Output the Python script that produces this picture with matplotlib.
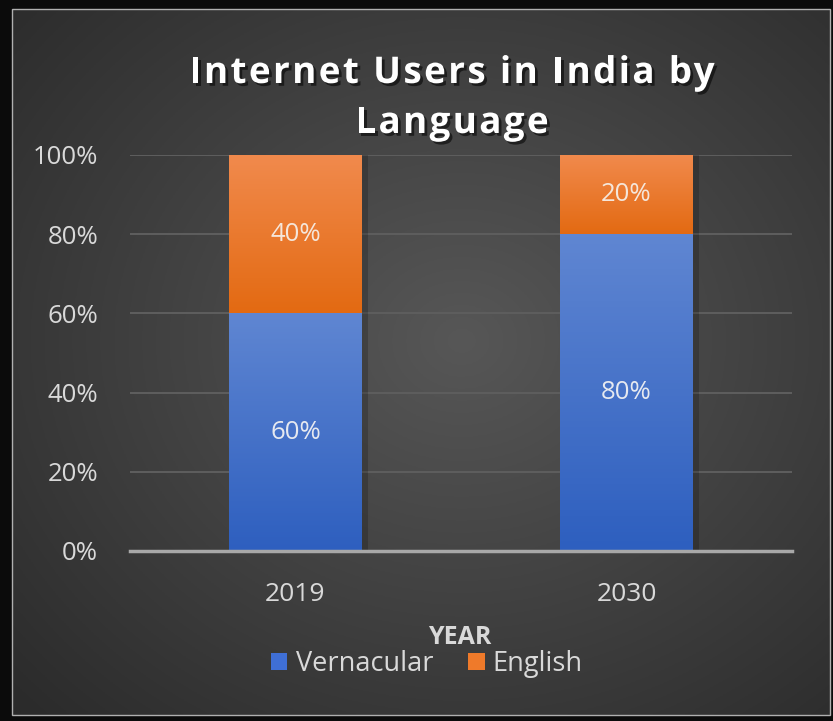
import numpy as np
import matplotlib
matplotlib.use("Agg")
import matplotlib.pyplot as plt
from matplotlib.patches import Rectangle, Patch
from matplotlib import patheffects as pe
from matplotlib.font_manager import FontProperties
from matplotlib.ticker import FuncFormatter

# Data
years = ["2019", "2030"]
vernacular = [60, 80]
english = [40, 20]
series_names = ["Vernacular", "English"]
title_lines = ["Internet Users in India by", "Language"]
x_title = "YEAR"

W, H = 833, 721
fig = plt.figure(figsize=(W / 100, H / 100), dpi=100, facecolor="#0b0b0b")
FONT = "Open Sans"

def fx(px):
    return px / W

def fy(py):
    return 1 - py / H

# Chart panel with radial gradient background
px0, py0, px1, py1 = 12, 9, 830, 715
bg_ax = fig.add_axes([fx(px0), fy(py1), fx(px1 - px0), (py1 - py0) / H])
bg_ax.set_axis_off()
gy, gx = np.mgrid[0:1:300j, 0:1:300j]
r = np.sqrt(((gx - 0.55) / 0.75) ** 2 + ((gy - 0.47) / 0.75) ** 2)
r = np.clip(r, 0, 1)
c_in = np.array([0x57, 0x57, 0x57]) / 255
c_out = np.array([0x2b, 0x2b, 0x2b]) / 255
img = c_in[None, None, :] * (1 - r[..., None]) + c_out[None, None, :] * r[..., None]
bg_ax.imshow(img, extent=[0, 1, 0, 1], aspect="auto", origin="upper")
bg_ax.set_xlim(0, 1)
bg_ax.set_ylim(0, 1)
fig.patches.append(Rectangle((fx(px0), fy(py1)), fx(px1 - px0), (py1 - py0) / H,
                             transform=fig.transFigure, fill=False,
                             edgecolor="#b0b0b0", linewidth=1.0, zorder=5))

# Plot area
ax = fig.add_axes([fx(130), fy(551), fx(792 - 130), (551 - 155) / H])
ax.set_facecolor("none")
x = np.arange(len(years))
bw = 0.40

blue_top, blue_bot = np.array([0x5f, 0x86, 0xd2]) / 255, np.array([0x2e, 0x5f, 0xbf]) / 255
orng_top, orng_bot = np.array([0xf1, 0x8a, 0x4d]) / 255, np.array([0xe3, 0x6a, 0x12]) / 255

v_frac = np.array(vernacular) / 100
e_frac = np.array(english) / 100
b1 = ax.bar(x, v_frac, width=bw, color="#3f6fcc", zorder=3)
b2 = ax.bar(x, e_frac, width=bw, bottom=v_frac, color="#ec7a2c", zorder=3)

def grad_fill(bars, top, bot):
    for b in bars:
        x0, y0 = b.get_x(), b.get_y()
        w, h = b.get_width(), b.get_height()
        t = np.linspace(0, 1, 100)[:, None]
        g = top[None, None, :] * (1 - t[..., None]) + bot[None, None, :] * t[..., None]
        g = np.repeat(g, 2, axis=1)
        im = ax.imshow(g, extent=[x0, x0 + w, y0, y0 + h], aspect="auto",
                       origin="upper", zorder=4)
        im.set_clip_path(b)
        # soft drop shadow on the right side
        ax.add_patch(Rectangle((x0 + w, y0), 0.02, h, facecolor="#000000",
                               alpha=0.18, edgecolor="none", zorder=2))

grad_fill(b1, blue_top, blue_bot)
grad_fill(b2, orng_top, orng_bot)

for i in range(len(years)):
    ax.text(x[i], v_frac[i] / 2, f"{vernacular[i]}%", ha="center", va="center",
            color="#e6e9f0", fontsize=18.5, family=FONT, zorder=6)
    ax.text(x[i], v_frac[i] + e_frac[i] / 2, f"{english[i]}%", ha="center", va="center",
            color="#f5e6da", fontsize=18.5, family=FONT, zorder=6)

ax.set_xlim(-0.5, 1.5)
ax.set_ylim(0, 1)
ax.set_yticks(np.linspace(0, 1, 6))
ax.yaxis.set_major_formatter(FuncFormatter(lambda v, p: f"{v * 100:.0f}%"))
ax.set_xticks(x)
ax.set_xticklabels(years)
ax.grid(axis="y", color="#5e5e5e", linewidth=1.4, zorder=1)
ax.set_axisbelow(True)
for s in ["top", "right", "left"]:
    ax.spines[s].set_visible(False)
ax.spines["bottom"].set_color("#a8a8a8")
ax.spines["bottom"].set_linewidth(2.5)
ax.spines["bottom"].set_zorder(7)
ax.tick_params(axis="both", length=0, colors="#d9d9d9")
ax.tick_params(axis="y", pad=23, labelsize=18.5)
ax.tick_params(axis="x", pad=22, labelsize=19)
for lab in ax.get_xticklabels() + ax.get_yticklabels():
    lab.set_family(FONT)

# Title, drawn with extra letter spacing
renderer = fig.canvas.get_renderer()
tprop = FontProperties(family=FONT, weight="bold", size=26.5)
tracking = 2.4  # pixels between letters

def text_w(s):
    if not s:
        return 0.0
    w, _, _ = renderer.get_text_width_height_descent(s, tprop, ismath=False)
    return w

title_fx = [pe.SimplePatchShadow(offset=(2, -2), shadow_rgbFace="black", alpha=0.55),
            pe.Normal()]
for li, line in enumerate(title_lines):
    total = text_w(line) + tracking * (len(line) - 1)
    left = 452 - total / 2
    base = 83 + li * 50
    for i, ch in enumerate(line):
        if ch == " ":
            continue
        xpos = left + text_w(line[:i + 1]) - text_w(ch) + tracking * i
        t = fig.text(fx(xpos), fy(base), ch, ha="left", va="baseline",
                     color="white", fontproperties=tprop)
        t.set_path_effects(title_fx)

fig.text(fx(460), fy(637), x_title, ha="center", va="center", color="#d9d9d9",
         fontsize=18, fontweight="bold", family=FONT)

handles = [Patch(facecolor="#3f6fd6", edgecolor="none"),
           Patch(facecolor="#ef7a2a", edgecolor="none")]
leg = fig.legend(handles, series_names, loc="center", bbox_to_anchor=(fx(427), fy(664)),
                 ncol=2, frameon=False, labelcolor="#d9d9d9",
                 handlelength=0.6, handleheight=0.6, handletextpad=0.3,
                 columnspacing=1.3, prop={"family": FONT, "size": 19.5})

fig.savefig("out.png", dpi=100, facecolor=fig.get_facecolor())
